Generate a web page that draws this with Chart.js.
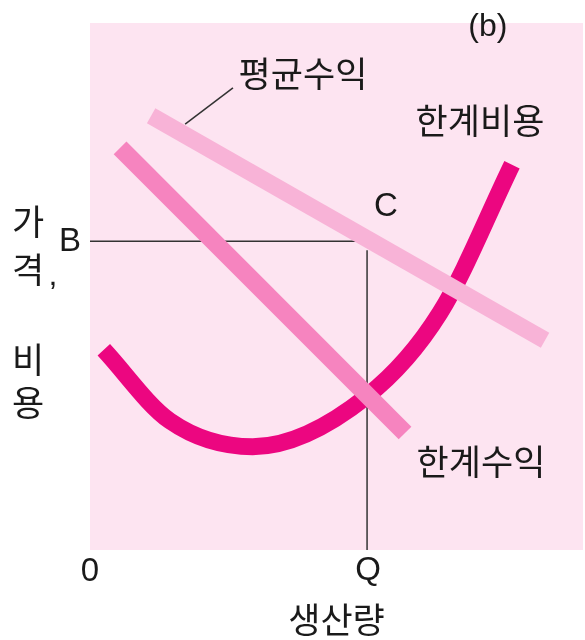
<!DOCTYPE html>
<html>
<head>
<meta charset="utf-8">
<script src="https://cdn.jsdelivr.net/npm/chart.js@4"></script>
<style>
  body { margin: 0; background: #fff; }
  #wrap { width: 585px; height: 640px; }
</style>
</head>
<body>
<div id="wrap"><canvas id="chart" width="585" height="640"></canvas></div>
<script>
// values in chart units (x: output 0..100, y: price/cost 0..100)
const qValue = 56.2;
const bValue = 58.6;

const avgRevenueX = [12.4, 92.3];
const avgRevenueY = [82.4, 39.8];

const margRevenueX = [6.1, 63.9];
const margRevenueY = [76.3, 22.2];

const margCostX = [2.8, 16.2, 33.0, 56.2, 71.0, 85.6];
const margCostY = [38.0, 24.5, 19.6, 29.2, 45.0, 73.1];

// leader line from the 평균수익 label to its curve
const leaderX = [19.3, 29.0];
const leaderY = [80.8, 87.7];

// curve labels: [text, x, y]
const curveLabels = [
  ['평균수익', 43.2, 90.3],
  ['한계비용', 79.1, 81.4],
  ['한계수익', 79.3, 16.7],
];
const yTitle = ['가', '격', '비', '용'];
const xTitle = '생산량';

const toPoints = (xs, ys) => xs.map((x, i) => ({ x: x, y: ys[i] }));

const KR = '"Noto Sans CJK KR", "Noto Sans", sans-serif';
const LAT = '"Liberation Sans", Arial, sans-serif';

const backdrop = {
  id: 'backdrop',
  beforeDraw(chart) {
    const { ctx, chartArea: a } = chart;
    ctx.save();
    ctx.fillStyle = '#fde4f1';
    ctx.fillRect(a.left, a.top, a.right - a.left, a.bottom - a.top);
    ctx.restore();
  }
};

const labels = {
  id: 'labels',
  afterDraw(chart) {
    const { ctx } = chart;
    const sx = chart.scales.x, sy = chart.scales.y;
    ctx.save();
    ctx.fillStyle = '#1a1a1a';
    ctx.textAlign = 'center';
    ctx.textBaseline = 'middle';

    ctx.font = '35px ' + KR;
    curveLabels.forEach(([t, x, y]) => {
      ctx.fillText(t, sx.getPixelForValue(x), sy.getPixelForValue(y));
    });

    ctx.font = '33px ' + LAT;
    ctx.fillText('C', sx.getPixelForValue(60.0), sy.getPixelForValue(65.1));
    ctx.fillText('B', sx.left - 20, sy.getPixelForValue(bValue) + 1);
    ctx.fillText('0', sx.getPixelForValue(0), sy.bottom + 22);
    ctx.fillText('Q', sx.getPixelForValue(qValue) + 1, sy.bottom + 21);
    ctx.font = '32px ' + LAT;
    ctx.fillText('(b)', sx.getPixelForValue(80.7), sy.getPixelForValue(99.2));

    ctx.font = '35px ' + KR;
    ctx.fillText(xTitle, sx.getPixelForValue(50), sy.bottom + 70);
    const ys = [222, 270, 360, 403];
    yTitle.forEach((t, i) => ctx.fillText(t, 28, ys[i]));
    ctx.font = '32px ' + LAT;
    ctx.fillText(',', 53, 276);
    ctx.restore();
  }
};

const ctx = document.getElementById('chart').getContext('2d');
new Chart(ctx, {
  type: 'scatter',
  data: {
    datasets: [
      { label: '한계수익', data: toPoints(margRevenueX, margRevenueY), borderColor: '#f684bf', borderWidth: 18 },
      { label: '평균수익', data: toPoints(avgRevenueX, avgRevenueY), borderColor: '#f8b3d7', borderWidth: 17 },
      { label: '한계비용', data: toPoints(margCostX, margCostY), borderColor: '#ec0680', borderWidth: 17, cubicInterpolationMode: 'monotone' },
      { label: 'leader', data: toPoints(leaderX, leaderY), borderColor: '#333', borderWidth: 1.5 },
      { label: 'B', data: [{ x: 0, y: bValue }, { x: qValue, y: bValue }], borderColor: '#333', borderWidth: 1.5 },
      { label: 'Q', data: [{ x: qValue, y: 0 }, { x: qValue, y: bValue - 1.7 }], borderColor: '#333', borderWidth: 1.5 },
    ].map(d => Object.assign({ showLine: true, pointRadius: 0, fill: false, borderCapStyle: 'butt' }, d))
  },
  options: {
    responsive: false,
    animation: false,
    layout: { padding: { left: 90, top: 23, right: 2, bottom: 90 } },
    plugins: { legend: { display: false }, tooltip: { enabled: false } },
    scales: {
      x: { type: 'linear', min: 0, max: 100, display: false },
      y: { type: 'linear', min: 0, max: 100, display: false }
    }
  },
  plugins: [backdrop, labels]
});
</script>
</body>
</html>
